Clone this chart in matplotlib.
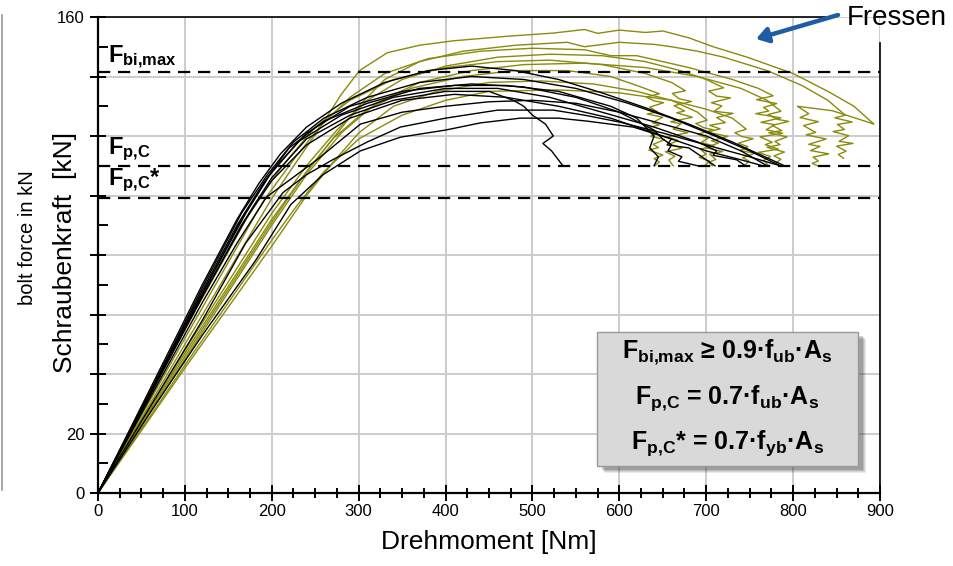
import matplotlib
matplotlib.use("Agg")
import matplotlib.pyplot as plt
from matplotlib.lines import Line2D
from matplotlib.patches import FancyBboxPatch
from matplotlib.ticker import MultipleLocator, FixedLocator, FixedFormatter

plt.rcParams['font.family'] = ['Liberation Sans', 'DejaVu Sans']
plt.rcParams['mathtext.fontset'] = 'custom'
plt.rcParams['mathtext.rm'] = 'Liberation Sans'
plt.rcParams['mathtext.bf'] = 'Liberation Sans:bold'
plt.rcParams['mathtext.it'] = 'Liberation Sans:italic'

# reference levels [kN]
F_BI_MAX = 141.4
F_PC = 110.0
F_PC_STAR = 99.0

# y tick labels (only a few are printed in the original)
y_ticks = [0, 20, 40, 60, 80, 100, 120, 140, 160]
y_tick_labels = ['0', '20', '', '', '', '', '', '', '160']
x_ticks = [0, 100, 200, 300, 400, 500, 600, 700, 800, 900]

# measured curves (torque [Nm], bolt force [kN]) - black series
black_1 = [(0, 0), (60, 35), (120, 70), (160, 92), (185, 104), (210, 114), (240, 123), (280, 131), (330, 138),
           (380, 142), (430, 143.5), (480, 142), (530, 139), (580, 134.5), (630, 129.5), (680, 124), (730, 118),
           (760, 114), (790, 110)]
black_2 = [(0, 0), (60, 34), (120, 69), (165, 94), (195, 107), (225, 118), (260, 126), (310, 133), (370, 138),
           (430, 140), (490, 139), (550, 136), (610, 131), (660, 126), (710, 120), (750, 115), (785, 110)]
black_3 = [(0, 0), (60, 34), (120, 68), (160, 90), (190, 104), (220, 116), (260, 125), (310, 131), (370, 136),
           (430, 137.5), (490, 136.5), (550, 133), (600, 128), (640, 122), (650, 119), (660, 117), (656, 115),
           (672, 113), (668, 111.5), (690, 110)]
black_4 = [(0, 0), (60, 33), (120, 66), (165, 90), (200, 106), (240, 119), (290, 127), (340, 132), (400, 135),
           (450, 135), (478, 132), (490, 130), (500, 127), (515, 124), (524, 120), (512, 117.5), (522, 115),
           (535, 110)]
black_5 = [(0, 0), (60, 34), (120, 67), (170, 94), (200, 108), (240, 121), (290, 130), (350, 135), (410, 137),
           (470, 137), (530, 135), (590, 130), (620, 126), (640, 120), (635, 116), (645, 113), (640, 110)]
black_6 = [(0, 0), (60, 33), (120, 67), (165, 92), (195, 106), (230, 118), (280, 127), (340, 133), (400, 136),
           (460, 136), (520, 133), (580, 128), (640, 123), (690, 118), (712, 115), (708, 113.5), (735, 112),
           (745, 110)]
black_7 = [(0, 0), (60, 33), (120, 66), (170, 92), (200, 105), (240, 117), (290, 126), (350, 132), (410, 134),
           (470, 133), (530, 130), (590, 126), (640, 121), (660, 119), (655, 117), (680, 116), (700, 112),
           (710, 110)]
black_8 = [(0, 0), (60, 32), (120, 64), (160, 84), (194, 99.5), (252, 112), (302, 124), (350, 128), (400, 130),
           (450, 131.5), (500, 132), (550, 131), (600, 128), (650, 124), (700, 120), (740, 115), (770, 110)]
black_9 = [(0, 0), (60, 29), (120, 58), (170, 84), (213, 101), (240, 107), (270, 112), (310, 118), (348, 123),
           (400, 126), (460, 128.7), (524, 128.7), (560, 127), (600, 124.7), (650, 121), (700, 117), (750, 113),
           (785, 110)]
black_10 = [(0, 0), (60, 27), (120, 53), (181, 78), (222, 97), (259, 107), (302, 115), (348, 119.6), (400, 122),
            (440, 124.4), (486, 126), (530, 126), (563, 125), (616, 123), (660, 119), (700, 115), (740, 112),
            (765, 110)]

# olive series (with galling / "Fressen" tails)
olive_1 = [(0, 0), (100, 50), (200, 99), (230, 112), (256, 123), (280, 134), (301, 142), (333, 148), (370, 150.5),
           (409, 152), (470, 153.5), (524, 154.6), (560, 155.8), (575, 154.5), (600, 155.6), (630, 154.8),
           (650, 155.3), (680, 153), (708, 150), (747, 146.5), (800, 141), (840, 135), (870, 130), (893, 124),
           (872, 126), (845, 128.5), (805, 130), (818, 127.5), (808, 126.2), (829, 124.8), (812, 123.5),
           (826, 121.2), (815, 120.4), (838, 119), (818, 117.2), (831, 116.5), (820, 115.1), (841, 114),
           (823, 112.9), (829, 111.6), (822, 110.8), (828, 110)]
olive_2 = [(0, 0), (100, 47), (200, 92), (240, 108), (270, 119), (300, 130), (330, 139), (370, 145), (420, 148.5),
           (480, 150.5), (540, 151.5), (560, 150), (600, 151.5), (640, 150.8), (660, 150), (690, 148.5),
           (720, 146.5), (770, 142), (810, 137), (840, 132), (860, 127), (848, 126.1), (868, 124.7),
           (851, 123.9), (859, 122.2), (846, 121.5), (864, 120.1), (853, 118.2), (869, 117.5), (850, 116.6),
           (861, 114.9), (852, 113.8), (858, 112.5)]
olive_3 = [(0, 0), (100, 52), (190, 98), (225, 112), (255, 123), (290, 133), (330, 141), (380, 146), (440, 148.5),
           (500, 149.5), (560, 149), (590, 147), (620, 147), (650, 145), (680, 143), (730, 139), (760, 136),
           (777, 133.5), (758, 132.2), (781, 130.9), (766, 129.6), (772, 128.4), (757, 127.5), (786, 126.1),
           (763, 124.6), (779, 123.8), (769, 122.1), (788, 120.9), (762, 119.7), (776, 117.9), (768, 117.1),
           (783, 115.6), (760, 114.5), (774, 113.1), (766, 111.8), (772, 110)]
olive_4 = [(0, 0), (100, 48), (200, 94), (240, 110), (275, 122), (310, 132), (350, 139), (400, 143.5),
           (460, 146.5), (520, 147.5), (580, 147), (630, 145), (670, 142), (700, 139), (720, 136.2),
           (703, 135.1), (712, 133.4), (728, 132.8), (706, 131.2), (718, 130.1), (709, 128.3), (731, 127.6),
           (712, 126.2), (722, 124.5), (704, 123.6), (716, 122.4), (701, 121.3), (725, 119.9), (706, 118.4),
           (714, 117.6), (699, 116.1), (719, 114.8), (704, 113.9), (711, 112.1), (703, 111.2), (707, 110)]
olive_5 = [(0, 0), (100, 55), (180, 97), (215, 111), (250, 123), (290, 132), (340, 139), (400, 143), (460, 145),
           (520, 145.5), (580, 144), (630, 141), (660, 138), (676, 135.2), (661, 134.3), (669, 132.5),
           (683, 131.6), (663, 130.2), (675, 128.4), (666, 127.8), (684, 126.3), (659, 124.8), (671, 124.1),
           (662, 122.3), (679, 121.1), (655, 119.7), (668, 118.5), (658, 117.3), (672, 115.9), (653, 114.7),
           (664, 113.2), (657, 111.9), (662, 110)]
olive_6 = [(0, 0), (100, 46), (200, 91), (235, 106), (270, 119), (310, 129), (360, 136), (420, 140), (480, 142),
           (540, 142), (590, 140), (620, 137), (646, 134.2), (631, 133.1), (640, 131.8), (651, 131.2),
           (635, 129.7), (644, 128.1), (632, 127.4), (650, 126.3), (638, 124.5), (646, 123.7), (630, 122.6),
           (643, 121.1), (636, 119.9), (652, 118.8), (639, 117.2), (645, 116.1), (634, 115.3), (650, 113.6),
           (640, 112.4), (646, 111.3), (641, 110)]
olive_7 = [(0, 0), (100, 42), (200, 83), (240, 100), (270, 111), (300, 121), (340, 130), (390, 135), (450, 138),
           (510, 138.5), (570, 137.5), (620, 135), (660, 132), (690, 128), (701, 125.3), (688, 124.2),
           (697, 122.8), (708, 122.1), (690, 120.6), (702, 119.2), (694, 117.8), (709, 116.7), (693, 115.6),
           (700, 113.9), (692, 112.8), (704, 111.5), (698, 110)]
olive_8 = [(0, 0), (100, 43), (200, 85), (230, 97), (260, 108), (300, 119), (350, 127), (400, 132), (450, 135),
           (530, 135.5), (600, 134.5), (660, 132), (700, 129), (730, 126), (746, 122.3), (733, 121.1),
           (741, 119.8), (754, 119.1), (737, 117.6), (748, 116.4), (739, 115.1), (756, 114.2), (742, 112.7),
           (749, 111.6), (744, 110)]
olive_9 = [(0, 0), (100, 45), (200, 90), (240, 107), (280, 121), (320, 131), (370, 138), (430, 142), (490, 144),
           (560, 144.5), (630, 143), (690, 140), (740, 136), (770, 132), (786, 128.3), (771, 127.2),
           (782, 125.6), (795, 124.9), (776, 123.6), (787, 121.8), (772, 121.1), (793, 119.7), (779, 118.2),
           (785, 117.1), (770, 116.2), (790, 114.6), (778, 113.3), (786, 112.2), (780, 110.9), (784, 110)]

black_curves = [black_1, black_2, black_3, black_4, black_5, black_6, black_7, black_8, black_9, black_10]
olive_curves = [olive_1, olive_2, olive_3, olive_4, olive_5, olive_6, olive_7, olive_8, olive_9]

OLIVE = '#8a8a0c'

fig = plt.figure(figsize=(9.54, 5.66), dpi=100)
ax = fig.add_axes([98 / 954, 1 - 493 / 566, 782 / 954, 476 / 566])

ax.set_xlim(0, 900)
ax.set_ylim(0, 160)

# grid
ax.xaxis.set_major_locator(FixedLocator(x_ticks))
ax.xaxis.set_minor_locator(MultipleLocator(25))
ax.yaxis.set_major_locator(FixedLocator(y_ticks))
ax.yaxis.set_major_formatter(FixedFormatter(y_tick_labels))
ax.yaxis.set_minor_locator(MultipleLocator(10))
ax.grid(True, which='major', color='#cccccc', lw=1.4, zorder=0)
ax.set_axisbelow(True)

for c in olive_curves:
    ax.plot([p[0] for p in c], [p[1] for p in c], color=OLIVE, lw=1.0, zorder=2)
for c in black_curves:
    ax.plot([p[0] for p in c], [p[1] for p in c], color='black', lw=1.0, zorder=3)

# reference levels
for lvl in [F_BI_MAX, F_PC, F_PC_STAR]:
    ax.axhline(lvl, color='black', lw=1.6, dashes=(5.5, 3.5), zorder=4)

ax.text(12, 146.5, r'$\mathbf{F_{bi{,}max}}$', fontsize=17, fontweight='bold', va='center', ha='left')
ax.text(12, 115.5, r'$\mathbf{F_{p{,}C}}$', fontsize=17, fontweight='bold', va='center', ha='left')
ax.text(12, 105, r'$\mathbf{F_{p{,}C}}$*', fontsize=17, fontweight='bold', va='center', ha='left')

# spines / ticks
ax.spines['top'].set_visible(False)
ax.spines['right'].set_visible(False)
ax.spines['left'].set_linewidth(1.6)
ax.spines['bottom'].set_linewidth(1.6)
ax.add_line(Line2D([0, 0.93], [1, 1], transform=ax.transAxes, color='black', lw=1.2, clip_on=False))
ax.add_line(Line2D([1, 1], [0, 0.945], transform=ax.transAxes, color='black', lw=1.2, clip_on=False))

ax.tick_params(axis='both', which='major', direction='inout', length=12, width=1.4, labelsize=12)
ax.tick_params(axis='y', which='minor', direction='in', length=7, width=1.4)
ax.tick_params(axis='x', which='minor', direction='inout', length=7, width=1.4)
ax.tick_params(axis='x', pad=2)

ax.set_xlabel('Drehmoment [Nm]', fontsize=19, labelpad=8)
fig.text(65 / 954, 1 - 252 / 566, 'Schraubenkraft  [kN]', fontsize=19, rotation=90, ha='center', va='center')
fig.text(28 / 954, 1 - 238 / 566, 'bolt force in kN', fontsize=14.5, rotation=90, ha='center', va='center')
fig.add_artist(Line2D([2 / 954, 2 / 954], [1 - 15 / 566, 1 - 490 / 566], color='#999999', lw=1.2))

# formula box with shadow
bx0, by0 = (597 - 98) / 782, (493 - 466) / 476
bw, bh = (858 - 597) / 782, (466 - 332) / 476
for i, a in enumerate([0.10, 0.12, 0.15, 0.2]):
    off = (6 - i) / 782
    ax.add_patch(FancyBboxPatch((bx0 + off + 0.002, by0 - off * 782 / 476 - 0.003), bw, bh,
                                boxstyle='square,pad=0', transform=ax.transAxes, facecolor='#333333',
                                edgecolor='none', alpha=a, zorder=5))
ax.add_patch(FancyBboxPatch((bx0, by0), bw, bh, boxstyle='square,pad=0', transform=ax.transAxes,
                            facecolor='#d9d9d9', edgecolor='#9a9a9a', lw=1.0, zorder=6))
cx = bx0 + bw / 2
ax.text(cx, (493 - 352) / 476, r'$\mathbf{F_{bi{,}max}}$ ≥ 0.9·$\mathbf{f_{ub}}$·$\mathbf{A_s}$',
        transform=ax.transAxes, fontsize=18, fontweight='bold', ha='center', va='center', zorder=7)
ax.text(cx, (493 - 398) / 476, r'$\mathbf{F_{p{,}C}}$ = 0.7·$\mathbf{f_{ub}}$·$\mathbf{A_s}$',
        transform=ax.transAxes, fontsize=18, fontweight='bold', ha='center', va='center', zorder=7)
ax.text(cx, (493 - 443) / 476, r'$\mathbf{F_{p{,}C}}$* = 0.7·$\mathbf{f_{yb}}$·$\mathbf{A_s}$',
        transform=ax.transAxes, fontsize=18, fontweight='bold', ha='center', va='center', zorder=7)

# "Fressen" annotation
fig.text(847 / 954, 1 - 18 / 566, 'Fressen', fontsize=20, ha='left', va='center')
ax.annotate('', xy=(756 / 954, 1 - 39 / 566), xytext=(838 / 954, 1 - 15 / 566),
            xycoords='figure fraction', textcoords='figure fraction',
            arrowprops=dict(arrowstyle='-|>,head_length=0.7,head_width=0.45', lw=3.2, color='#1f5ca6',
                            shrinkA=0, shrinkB=0), annotation_clip=False)

fig.savefig('out.png', dpi=100)
